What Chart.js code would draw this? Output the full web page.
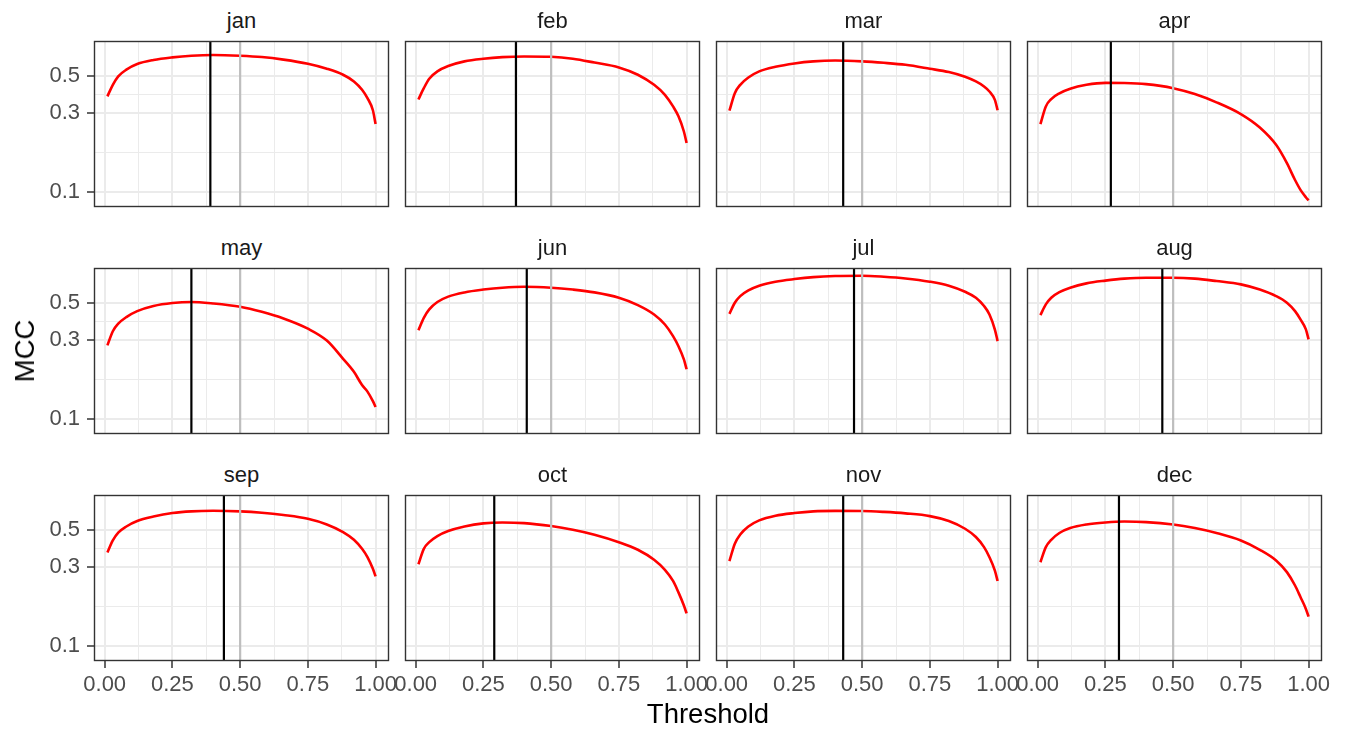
<!DOCTYPE html>
<html><head><meta charset="utf-8">
<script src="https://cdn.jsdelivr.net/npm/chart.js@4.4.0/dist/chart.umd.min.js"></script>
<style>
html,body{margin:0;padding:0;background:#fff;}
#wrap{position:relative;width:1348px;height:732px;overflow:hidden;background:#fff;font-family:"Liberation Sans",Arial,sans-serif;}
#wrap canvas{position:absolute;}
.strip{position:absolute;text-align:center;font-size:22px;line-height:22px;color:#1a1a1a;white-space:nowrap;}
.axtitle{position:absolute;font-size:27.5px;line-height:28px;color:#000;white-space:nowrap;}
</style></head><body><div id="wrap"></div>
<script>
// ---------------- data ----------------
const months = ['jan','feb','mar','apr','may','jun','jul','aug','sep','oct','nov','dec'];
const thresholds = [0.01,0.03,0.05,0.08,0.12,0.18,0.25,0.32,0.40,0.50,0.58,0.66,0.75,0.82,0.88,0.92,0.95,0.97,0.99,1.00];
const mccJan = [0.376,0.441,0.496,0.544,0.588,0.622,0.645,0.660,0.667,0.660,0.648,0.625,0.590,0.551,0.507,0.462,0.412,0.367,0.310,0.256];
const mccFeb = [0.360,0.421,0.480,0.531,0.572,0.610,0.633,0.647,0.653,0.650,0.633,0.600,0.561,0.507,0.441,0.384,0.327,0.285,0.231,0.197];
const mccMar = [0.308,0.393,0.441,0.488,0.531,0.566,0.593,0.610,0.617,0.610,0.598,0.582,0.551,0.526,0.493,0.462,0.431,0.402,0.358,0.310];
const mccApr = [0.256,0.327,0.362,0.392,0.418,0.441,0.453,0.452,0.445,0.421,0.388,0.346,0.294,0.244,0.192,0.149,0.118,0.103,0.093,0.089];
const mccMay = [0.277,0.337,0.374,0.410,0.445,0.478,0.498,0.505,0.495,0.473,0.441,0.402,0.349,0.296,0.230,0.192,0.160,0.146,0.128,0.118];
const mccJun = [0.342,0.406,0.456,0.505,0.544,0.577,0.600,0.616,0.624,0.616,0.600,0.577,0.536,0.484,0.425,0.370,0.315,0.274,0.228,0.199];
const mccJul = [0.429,0.500,0.548,0.593,0.633,0.669,0.694,0.713,0.724,0.727,0.717,0.700,0.669,0.633,0.582,0.536,0.478,0.425,0.345,0.294];
const mccAug = [0.421,0.489,0.536,0.579,0.616,0.654,0.679,0.698,0.707,0.707,0.698,0.675,0.645,0.600,0.548,0.500,0.445,0.397,0.346,0.301];
const mccSep = [0.365,0.431,0.480,0.523,0.564,0.600,0.630,0.645,0.650,0.645,0.633,0.613,0.582,0.538,0.484,0.435,0.384,0.342,0.291,0.262];
const mccOct = [0.310,0.384,0.421,0.458,0.491,0.523,0.546,0.553,0.548,0.526,0.500,0.467,0.421,0.379,0.330,0.287,0.246,0.210,0.175,0.157];
const mccNov = [0.324,0.412,0.468,0.523,0.569,0.607,0.630,0.645,0.649,0.648,0.640,0.627,0.604,0.564,0.507,0.452,0.393,0.342,0.284,0.246];
const mccDec = [0.319,0.393,0.435,0.478,0.512,0.538,0.553,0.560,0.556,0.538,0.512,0.478,0.431,0.379,0.327,0.278,0.231,0.197,0.167,0.150];
const optThreshold = [0.39,0.37,0.43,0.27,0.32,0.41,0.47,0.46,0.44,0.29,0.43,0.30];
const refThreshold = 0.5;
const yTickValues = [0.1,0.3,0.5];
const yTickLabels = ['0.1','0.3','0.5'];
const xTickValues = [0,0.25,0.5,0.75,1];
const xTickLabels = ['0.00','0.25','0.50','0.75','1.00'];
const xTitle = 'Threshold';
const yTitle = 'MCC';

// ---------------- layout ----------------
const series = [mccJan,mccFeb,mccMar,mccApr,mccMay,mccJun,mccJul,mccAug,mccSep,mccOct,mccNov,mccDec];
const X_MIN = -0.0395, X_MAX = 1.0495;
const Y_MIN = 0.0812, Y_MAX = 0.809;
const colLeft = [94,405,716,1027];
const rowTop = [41,268,495];
const PW = 295, PH = 166;
const Y_AXIS_W = 94, SIDE = 30, X_AXIS_H = 40, T = 2;
const FONT = '"Liberation Sans", Arial, sans-serif';

const xMinor = xTickValues.slice(1).map((v,i)=>(v+xTickValues[i])/2);
const xGrid = xTickValues.concat(xMinor).sort((a,b)=>a-b);
const yMinor = yTickValues.slice(1).map((v,i)=>Math.sqrt(v*yTickValues[i]));
const yGrid = yTickValues.concat(yMinor).sort((a,b)=>a-b);

const isMajorX = v => xTickValues.some(m=>Math.abs(m-v)<1e-9);
const isMajorY = v => yTickValues.some(m=>Math.abs(m-v)<1e-9);

const panelBorder = {
  id:'panelBorder',
  afterDraw(chart){
    const a = chart.chartArea, c = chart.ctx;
    c.save();
    c.strokeStyle = '#333333';
    c.lineWidth = 1.4;
    c.strokeRect(a.left+0.5, a.top+0.5, a.right-a.left-1, a.bottom-a.top-1);
    c.restore();
  }
};

const wrap = document.getElementById('wrap');

function makePanel(i){
  const col = i%4, row = Math.floor(i/4);
  const showY = col===0, showX = row===2;
  const L = showY ? Y_AXIS_W : SIDE;
  const R = SIDE;
  const B = showX ? X_AXIS_H : 2;
  const w = L+PW+R, h = T+PH+B;
  const canvas = document.createElement('canvas');
  canvas.width = w; canvas.height = h;
  canvas.style.width = w+'px'; canvas.style.height = h+'px';
  canvas.style.left = (colLeft[col]-L)+'px';
  canvas.style.top = (rowTop[row]-T)+'px';
  wrap.appendChild(canvas);

  const strip = document.createElement('div');
  strip.className = 'strip';
  strip.textContent = months[i];
  strip.style.left = colLeft[col]+'px';
  strip.style.width = PW+'px';
  strip.style.top = (rowTop[row]-31)+'px';
  wrap.appendChild(strip);

  new Chart(canvas, {
    type:'line',
    data:{datasets:[
      {data: thresholds.map((t,k)=>({x:t,y:series[i][k]})), borderColor:'#ff0000', borderWidth:2.6,
       pointRadius:0, cubicInterpolationMode:'monotone', order:3},
      {data:[{x:refThreshold,y:Y_MIN},{x:refThreshold,y:Y_MAX}], borderColor:'#bebebe', borderWidth:2.2, pointRadius:0, order:2},
      {data:[{x:optThreshold[i],y:Y_MIN},{x:optThreshold[i],y:Y_MAX}], borderColor:'#000000', borderWidth:2.2, pointRadius:0, order:1}
    ]},
    options:{
      responsive:false, animation:false, devicePixelRatio:1,
      layout:{padding:{left: showY?0:SIDE, right:R, top:T, bottom: showX?0:B}},
      plugins:{legend:{display:false}, tooltip:{enabled:false}, title:{display:false}},
      scales:{
        x:{type:'linear', min:X_MIN, max:X_MAX, border:{display:false},
          afterBuildTicks: s=>{ s.ticks = xGrid.map(v=>({value:v})); },
          afterFit: s=>{ s.height = showX?X_AXIS_H:0; s.paddingLeft=0; s.paddingRight=0; s.paddingTop=0; s.paddingBottom=0; },
          ticks:{display:showX, autoSkip:false, maxRotation:0, minRotation:0, padding:4, color:'#4d4d4d',
            font:{size:22, family:FONT},
            callback: v=>{ const k = xTickValues.findIndex(m=>Math.abs(m-v)<1e-9); return k>=0?xTickLabels[k]:''; }},
          grid:{drawTicks:showX, tickLength:7, color:'#ebebeb',
            lineWidth: ctx=> (ctx.tick && isMajorX(ctx.tick.value)) ? 2 : 1,
            tickColor: ctx=> (ctx.tick && isMajorX(ctx.tick.value)) ? '#333333' : 'rgba(0,0,0,0)',
            tickWidth: 1.5}
        },
        y:{type:'logarithmic', min:Y_MIN, max:Y_MAX, border:{display:false},
          afterBuildTicks: s=>{ s.ticks = yGrid.map(v=>({value:v})); },
          afterFit: s=>{ s.width = showY?Y_AXIS_W:0; s.paddingLeft=0; s.paddingRight=0; s.paddingTop=0; s.paddingBottom=0; },
          ticks:{display:showY, autoSkip:false, padding:7, color:'#4d4d4d',
            font:{size:22, family:FONT},
            callback: v=>{ const k = yTickValues.findIndex(m=>Math.abs(m-v)<1e-9); return k>=0?yTickLabels[k]:''; }},
          grid:{drawTicks:showY, tickLength:7, color:'#ebebeb',
            lineWidth: ctx=> (ctx.tick && isMajorY(ctx.tick.value)) ? 2 : 1,
            tickColor: ctx=> (ctx.tick && isMajorY(ctx.tick.value)) ? '#333333' : 'rgba(0,0,0,0)',
            tickWidth: 1.5}
        }
      }
    },
    plugins:[panelBorder]
  });
}

for (let i=0;i<12;i++) makePanel(i);

const xt = document.createElement('div');
xt.className='axtitle'; xt.textContent = xTitle;
xt.style.left = colLeft[0]+'px'; xt.style.width = (colLeft[3]+PW-colLeft[0])+'px'; xt.style.textAlign='center';
xt.style.top = '700px';
wrap.appendChild(xt);

const yt = document.createElement('div');
yt.className='axtitle'; yt.textContent = yTitle;
yt.style.left = '25px'; yt.style.top = '351px';
yt.style.transform = 'translate(-50%,-50%) rotate(-90deg)';
wrap.appendChild(yt);
</script>
</body></html>
